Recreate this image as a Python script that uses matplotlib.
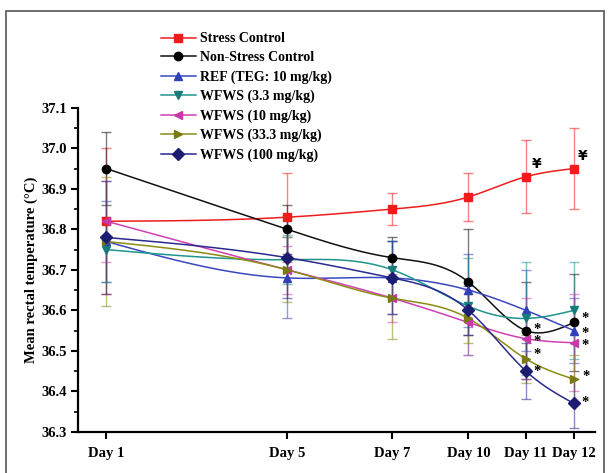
import numpy as np
import matplotlib
matplotlib.use('Agg')
import matplotlib.pyplot as plt
from matplotlib.lines import Line2D
from matplotlib.patches import Rectangle

plt.rcParams['font.family'] = ['Liberation Serif', 'DejaVu Serif']
plt.rcParams['font.weight'] = 'bold'

days = ['Day 1', 'Day 5', 'Day 7', 'Day 10', 'Day 11', 'Day 12']
day_pos = [1, 5, 7.32, 9.0, 10.27, 11.33]

labels = ['Stress Control', 'Non-Stress Control', 'REF (TEG: 10 mg/kg)',
          'WFWS (3.3 mg/kg)', 'WFWS (10 mg/kg)', 'WFWS (33.3 mg/kg)', 'WFWS (100 mg/kg)']

stress = [36.82, 36.83, 36.85, 36.88, 36.93, 36.95]
stress_err = [0.18, 0.11, 0.04, 0.06, 0.09, 0.10]
non_stress = [36.95, 36.80, 36.73, 36.67, 36.55, 36.57]
non_stress_err = [0.09, 0.06, 0.05, 0.13, 0.12, 0.12]
ref = [36.77, 36.68, 36.68, 36.65, 36.60, 36.55]
ref_err = [0.10, 0.10, 0.09, 0.09, 0.10, 0.08]
wfws_3 = [36.75, 36.725, 36.70, 36.61, 36.58, 36.60]
wfws_3_err = [0.08, 0.06, 0.07, 0.12, 0.14, 0.12]
wfws_10 = [36.82, 36.70, 36.63, 36.57, 36.53, 36.52]
wfws_10_err = [0.10, 0.06, 0.06, 0.08, 0.10, 0.12]
wfws_33 = [36.77, 36.70, 36.63, 36.58, 36.48, 36.43]
wfws_33_err = [0.16, 0.08, 0.10, 0.06, 0.06, 0.06]
wfws_100 = [36.78, 36.73, 36.68, 36.60, 36.45, 36.37]
wfws_100_err = [0.14, 0.10, 0.09, 0.06, 0.07, 0.06]

series = [stress, non_stress, ref, wfws_3, wfws_10, wfws_33, wfws_100]
errors = [stress_err, non_stress_err, ref_err, wfws_3_err, wfws_10_err, wfws_33_err, wfws_100_err]
colors = ['#f01c1c', '#111111', '#3a48c0', '#1f9490', '#d040b4', '#8c8c14', '#2a2a90']
marker_colors = ['#f01c1c', '#000000', '#3040b8', '#177d7a', '#c838a8', '#7a7a10', '#1c1c70']
markers = ['s', 'o', '^', 'v', '<', '>', 'D']

# significance marks: (series index, day index, symbol, x/y offset in points)
stars = [(0, 4, '¥', (4, 4)), (0, 5, '¥', (3, 4)),
         (1, 4, '*', (5, 1)), (4, 4, '*', (5, -2)), (5, 4, '*', (5, 3)), (6, 4, '*', (5, 0)),
         (1, 5, '*', (5, 3)), (2, 5, '*', (5, -2)), (4, 5, '*', (5, -2)), (5, 5, '*', (6, 2)),
         (6, 5, '*', (5, 1))]


def smooth(x, y, n=200):
    # natural cubic spline
    x = np.asarray(x, float)
    y = np.asarray(y, float)
    k = len(x)
    h = np.diff(x)
    A = np.zeros((k, k))
    b = np.zeros(k)
    A[0, 0] = A[-1, -1] = 1
    for i in range(1, k - 1):
        A[i, i - 1] = h[i - 1]
        A[i, i] = 2 * (h[i - 1] + h[i])
        A[i, i + 1] = h[i]
        b[i] = 6 * ((y[i + 1] - y[i]) / h[i] - (y[i] - y[i - 1]) / h[i - 1])
    M = np.linalg.solve(A, b)
    xs = np.linspace(x[0], x[-1], n)
    ys = np.empty_like(xs)
    for j, t in enumerate(xs):
        i = min(np.searchsorted(x, t, side='right') - 1, k - 2)
        a, c = x[i], x[i + 1]
        hi = h[i]
        ys[j] = (M[i] * (c - t) ** 3 / (6 * hi) + M[i + 1] * (t - a) ** 3 / (6 * hi)
                 + (y[i] / hi - M[i] * hi / 6) * (c - t)
                 + (y[i + 1] / hi - M[i + 1] * hi / 6) * (t - a))
    return xs, ys


fig = plt.figure(figsize=(6.08, 4.73), dpi=100)
ax = fig.add_axes([0.128, 0.087, 0.851, 0.685])

for vals, err, col, mcol, mk in zip(series, errors, colors, marker_colors, markers):
    ax.errorbar(day_pos, vals, yerr=err, fmt='none', ecolor=col, alpha=0.55,
                elinewidth=1.0, capsize=3.5, capthick=1.0, zorder=2)
    xs, ys = smooth(day_pos, vals)
    ax.plot(xs, ys, color=col, lw=1.1, zorder=3)
    ax.plot(day_pos, vals, linestyle='none', marker=mk, color=mcol, markersize=6, zorder=4)

for si, di, sym, off in stars:
    if sym == '¥':
        ax.annotate(sym, (day_pos[di], series[si][di]), xytext=off, textcoords='offset points',
                    ha='left', va='bottom', fontsize=10, family=['DejaVu Sans'])
    else:
        ax.annotate(sym, (day_pos[di], series[si][di]), xytext=off, textcoords='offset points',
                    ha='left', va='center', fontsize=10.5, fontweight='bold')

ax.set_xlim(0.37, 11.8)
ax.set_ylim(36.3, 37.1)
ax.set_xticks(day_pos)
ax.set_xticklabels(days)
ax.set_yticks(np.arange(36.3, 37.11, 0.1))
ax.set_yticks(np.arange(36.35, 37.1, 0.1), minor=True)
ax.yaxis.set_major_formatter(matplotlib.ticker.FormatStrFormatter('%.1f'))
ax.tick_params(axis='both', which='major', direction='out', length=5, width=1.5,
               labelsize=10.5, pad=3)
ax.tick_params(axis='y', which='minor', direction='out', length=3, width=1.2)
ax.tick_params(axis='x', pad=6)
for lab in ax.get_xticklabels() + ax.get_yticklabels():
    lab.set_fontweight('bold')
ax.spines['top'].set_visible(False)
ax.spines['right'].set_visible(False)
ax.spines['left'].set_linewidth(1.6)
ax.spines['bottom'].set_linewidth(1.6)
ax.set_ylabel('Mean rectal temperature (°C)', fontsize=10.5, fontweight='bold', labelpad=2)

handles = [Line2D([], [], color=c, marker=m, markerfacecolor=mc, markeredgecolor=mc,
                  markersize=6, lw=1.1)
           for c, mc, m in zip(colors, marker_colors, markers)]
leg = fig.legend(handles, labels, loc='upper left', bbox_to_anchor=(0.244, 0.958),
                 frameon=False, handlelength=2.5, handletextpad=0.35, labelspacing=0.43,
                 prop={'weight': 'bold', 'size': 10})

fig.add_artist(Rectangle((6 / 608, -0.01), 598 / 608, 1 - 11 / 473 + 0.01, transform=fig.transFigure,
                         fill=False, edgecolor='#555555', lw=1.2))

fig.savefig('out.png', dpi=100)
